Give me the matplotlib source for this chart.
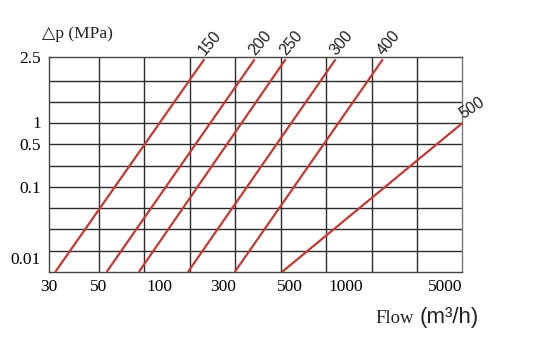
import matplotlib
matplotlib.use("Agg")
import matplotlib.pyplot as plt

# ---- data (nomogram grid units: 9 columns x 10 rows) ----
series_labels = ["150", "200", "250", "300", "400", "500"]
x_start = [0.04, 1.17, 1.88, 2.96, 3.99, 5.03]   # at bottom row (y=0)
x_end = [3.32, 4.43, 5.11, 6.21, 7.25, 9.0]
y_end = [10, 10, 10, 10, 10, 7]
y_start = [0, 0, 0, 0, 0, 0]

x_tick_labels = ["30", "50", "100", "300", "500", "1000", "5000"]
x_tick_pos = [-0.09, 1.0, 2.34, 3.73, 5.2, 6.44, 8.62]
y_tick_labels = ["2.5", "1", "0.5", "0.1", "0.01"]
y_tick_pos = [10.12, 7.05, 6.0, 4.0, 0.65]

n_cols, n_rows = 9, 10

serif = ["Liberation Serif", "DejaVu Serif"]
sans = ["Liberation Sans", "DejaVu Sans"]

fig = plt.figure(figsize=(5.59, 3.49), dpi=100)
ax = fig.add_axes([0.0882, 0.2206, 0.739, 0.617])
ax.set_xlim(0, n_cols)
ax.set_ylim(0, n_rows)

grid_color = "#2b2b2b"
for i in range(1, n_cols):
    ax.axvline(i, color=grid_color, linewidth=1.0, zorder=1)
for j in range(1, n_rows):
    ax.axhline(j, color=grid_color, linewidth=1.0, zorder=1)
ax.tick_params(which="both", length=0)

ax.set_xticks(x_tick_pos)
ax.set_xticklabels(x_tick_labels, fontfamily=serif, fontsize=12.5)
ax.set_yticks(y_tick_pos)
ax.set_yticklabels(y_tick_labels, fontfamily=serif, fontsize=12.5)
ax.tick_params(axis="x", pad=5)
ax.tick_params(axis="y", pad=6)

for s in ax.spines.values():
    s.set_color("#444444")
    s.set_linewidth(1.0)
ax.spines["right"].set_color("#777777")

red = "#c23a32"
for lab, xs, xe, ys, ye in zip(series_labels, x_start, x_end, y_start, y_end):
    ax.plot([xs, xe], [ys, ye], color=red, linewidth=1.6, solid_capstyle="butt",
            clip_on=False, zorder=3)
    rot = 50 if ye >= n_rows else 33
    ax.annotate(lab, (xe, ye), xytext=(2, 1), textcoords="offset points",
                rotation=rot, rotation_mode="anchor", ha="left", va="bottom",
                fontfamily=sans, fontsize=11.5, color="#222222")

fig.text(41.5 / 559, 1 - 34 / 349, "\u25b3p (MPa)", ha="left", va="center",
         fontfamily=["Liberation Serif", "DejaVu Sans"], fontsize=12.5, color="#222222")

fig.text(375 / 559, 1 - 323 / 349, "Flow", ha="left", va="baseline",
         fontfamily=serif, fontsize=13.5, color="#222222")
fig.text(420 / 559, 1 - 323 / 349, "(m\u00b3/h)", ha="left", va="baseline",
         fontfamily=sans, fontsize=16, color="#222222")

fig.savefig("out.png", dpi=100)
